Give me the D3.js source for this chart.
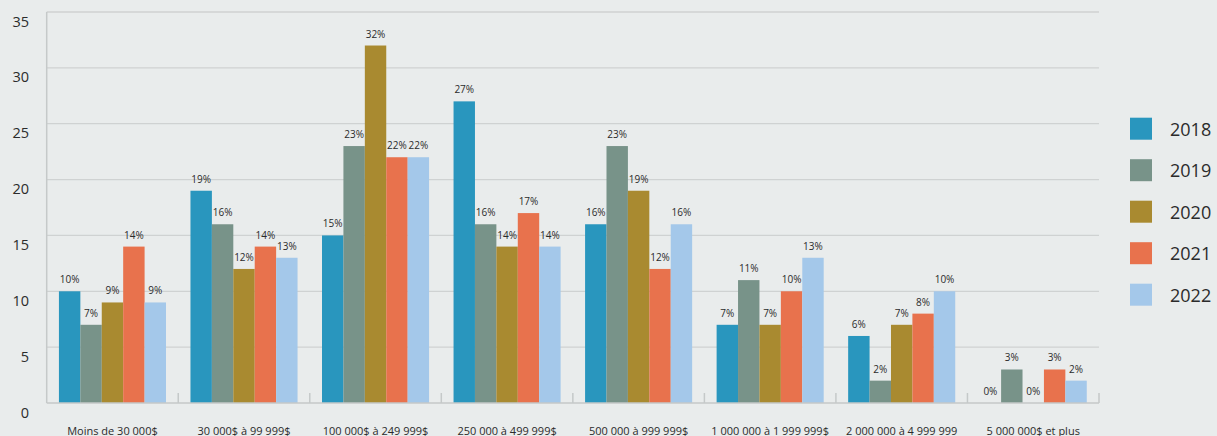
<!DOCTYPE html>
<html>
<head>
<meta charset="utf-8">
<script src="https://cdn.jsdelivr.net/npm/d3@7"></script>
<style>
  html, body { margin: 0; padding: 0; background: #e9ecec; }
  svg { display: block; }
  text { font-family: "Open Sans", "Lato", sans-serif; fill: #2b2b2b; }
</style>
</head>
<body>
<svg id="chart" width="1217" height="436"></svg>
<script>
// Revenue brackets (x categories)
const categories = [
  "Moins de 30 000$",
  "30 000$ à 99 999$",
  "100 000$ à 249 999$",
  "250 000 à 499 999$",
  "500 000 à 999 999$",
  "1 000 000 à 1 999 999$",
  "2 000 000 à 4 999 999",
  "5 000 000$ et plus"
];

// Survey years (series)
const years = ["2018", "2019", "2020", "2021", "2022"];

// Share of respondents per bracket, in %, one array per year
const values2018 = [10, 19, 15, 27, 16, 7, 6, 0];
const values2019 = [7, 16, 23, 16, 23, 11, 2, 3];
const values2020 = [9, 12, 32, 14, 19, 7, 7, 0];
const values2021 = [14, 14, 22, 17, 12, 10, 8, 3];
const values2022 = [9, 13, 22, 14, 16, 13, 10, 2];

const yTicks = [0, 5, 10, 15, 20, 25, 30, 35];

const seriesValues = [values2018, values2019, values2020, values2021, values2022];
const colors = ["#2996be", "#789389", "#a98a30", "#e8724d", "#a4c8ea"];

const svg = d3.select("#chart");
const plotLeft = 46.7, plotRight = 1099, plotTop = 12, plotBottom = 403;

const x0 = d3.scaleBand()
  .domain(categories)
  .range([plotLeft, plotRight])
  .paddingInner(0.186)
  .paddingOuter(0.093);

const x1 = d3.scaleBand()
  .domain(years)
  .range([0, x0.bandwidth()])
  .padding(0);

const y = d3.scaleLinear().domain([0, 35]).range([plotBottom, plotTop]);

const color = d3.scaleOrdinal().domain(years).range(colors);

// Horizontal grid lines
svg.append("g")
  .selectAll("line")
  .data(yTicks.filter(d => d > 0))
  .join("line")
  .attr("x1", plotLeft).attr("x2", plotRight)
  .attr("y1", d => y(d)).attr("y2", d => y(d))
  .attr("stroke", "#cfd2d2")
  .attr("stroke-width", 1.3);

// Y tick labels
svg.append("g")
  .selectAll("text")
  .data(yTicks)
  .join("text")
  .attr("x", 29)
  .attr("y", d => y(d) + 9)
  .attr("text-anchor", "end")
  .attr("dominant-baseline", "central")
  .style("font-size", "14.5px")
  .text(d => d);

// Bars
const groups = svg.append("g")
  .selectAll("g")
  .data(categories.map((c, i) => ({ c, vals: years.map((yr, j) => ({ yr, v: seriesValues[j][i] })) })))
  .join("g")
  .attr("transform", d => `translate(${x0(d.c)},0)`);

groups.selectAll("rect")
  .data(d => d.vals)
  .join("rect")
  .attr("x", d => x1(d.yr))
  .attr("width", x1.bandwidth())
  .attr("y", d => y(d.v))
  .attr("height", d => y(0) - y(d.v))
  .attr("fill", d => color(d.yr));

// Value labels
groups.selectAll("text")
  .data(d => d.vals)
  .join("text")
  .attr("x", d => x1(d.yr) + x1.bandwidth() / 2)
  .attr("y", d => y(d.v) - 8)
  .attr("text-anchor", "middle")
  .style("font-size", "10px")
  .text(d => d.v + "%");

// Axes: left vertical line, baseline and separators between brackets
const axis = svg.append("g").attr("stroke", "#c5c9c9").attr("stroke-width", 1.5);
axis.append("line").attr("x1", plotLeft).attr("x2", plotLeft).attr("y1", plotTop).attr("y2", plotBottom);
axis.append("line").attr("x1", plotLeft).attr("x2", plotRight).attr("y1", plotBottom).attr("y2", plotBottom);
const step = x0.step();
axis.selectAll("line.sep")
  .data(categories.map((c, i) => i + 1))
  .join("line")
  .attr("class", "sep")
  .attr("x1", i => plotLeft + step * i).attr("x2", i => plotLeft + step * i)
  .attr("y1", plotBottom - 10).attr("y2", plotBottom);

// Category labels
svg.append("g")
  .selectAll("text")
  .data(categories)
  .join("text")
  .attr("x", d => x0(d) + x0.bandwidth() / 2)
  .attr("y", 430)
  .attr("text-anchor", "middle")
  .attr("dominant-baseline", "central")
  .style("font-size", "11px")
  .text(d => d);

// Legend
const legend = svg.append("g")
  .selectAll("g")
  .data(years)
  .join("g")
  .attr("transform", (d, i) => `translate(1130,${117.7 + i * 41.5})`);
legend.append("rect").attr("width", 22).attr("height", 22).attr("fill", d => color(d));
legend.append("text")
  .attr("x", 40).attr("y", 11)
  .attr("dominant-baseline", "central")
  .style("font-size", "18px")
  .text(d => d);
</script>
</body>
</html>
